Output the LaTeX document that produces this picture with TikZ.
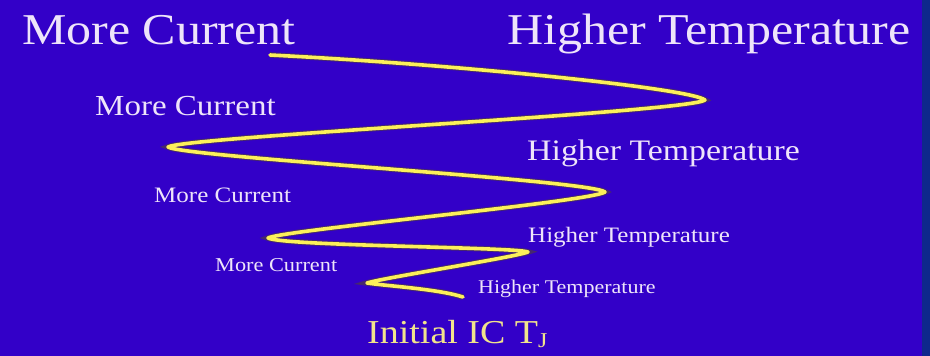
\documentclass[tikz,border=0pt]{standalone}
\usepackage{fontspec}
\setmainfont{Liberation Serif}
\usepackage{tikz}

\definecolor{slideblue}{RGB}{51,0,200}
\definecolor{edgenavy}{RGB}{14,40,140}
\definecolor{springyellow}{RGB}{252,240,90}
\definecolor{springshade}{RGB}{70,40,110}
\definecolor{labelwhite}{RGB}{238,228,250}
\definecolor{labelyellow}{RGB}{242,228,140}

\begin{document}
\begin{tikzpicture}[x=1pt,y=-1pt,
  label/.style={anchor=base west,inner sep=0pt,text=labelwhite},
  spring/.style={draw=springyellow,line width=3.6pt,line cap=round,line join=round,
    preaction={draw=springshade,line width=5.6pt}}]
\fill[slideblue] (0,0) rectangle (930,356);
\fill[edgenavy] (922,0) rectangle (930,356);
\useasboundingbox (0,0) rectangle (930,356);
% labels, biggest at the top
\node[label,font=\fontsize{50}{50}\selectfont] (mc1) at (22,45) {\scalebox{1}[0.88]{More Current}};
\node[label,font=\fontsize{50}{50}\selectfont] (ht1) at (507,44) {\scalebox{1}[0.88]{Higher Temperature}};
\node[label,font=\fontsize{33}{33}\selectfont] (mc2) at (95,115) {\scalebox{1}[0.88]{More Current}};
\node[label,font=\fontsize{33.8}{34}\selectfont] (ht2) at (527,160) {\scalebox{1}[0.88]{Higher Temperature}};
\node[label,font=\fontsize{25}{25}\selectfont] (mc3) at (154,202) {\scalebox{1}[0.88]{More Current}};
\node[label,font=\fontsize{25}{25}\selectfont] (ht3) at (528,242) {\scalebox{1}[0.88]{Higher Temperature}};
\node[label,font=\fontsize{22.3}{23}\selectfont] (mc4) at (215,271) {\scalebox{1}[0.88]{More Current}};
\node[label,font=\fontsize{22}{22}\selectfont] (ht4) at (478,293) {\scalebox{1}[0.88]{Higher Temperature}};
\node[label,text=labelyellow,font=\fontsize{38}{38}\selectfont] (tj) at (367,343)
  {\scalebox{1}[0.88]{Initial IC T\raisebox{-0.12em}{\fontsize{24}{24}\selectfont J}}};
% turning points of the spring
\coordinate (start) at (270,55);
\coordinate (tipA) at (705,100);
\coordinate (tipB) at (168,147);
\coordinate (tipC) at (605,192);
\coordinate (tipD) at (268,238);
\coordinate (tipE) at (528,252);
\coordinate (tipF) at (367,283);
\coordinate (stop) at (463,297);
\draw[spring] (start) .. controls +(180,9) and +(-15,-12) .. (tipA)
  .. controls +(-15,12) and +(15,-10) .. (tipB)
  .. controls +(15,10) and +(-15,-12) .. (tipC)
  .. controls +(-15,10) and +(15,-8) .. (tipD)
  .. controls +(15,8) and +(-12,-5) .. (tipE)
  .. controls +(-12,5) and +(15,-5) .. (tipF)
  .. controls +(20,3) and +(-25,-8) .. (stop);
\end{tikzpicture}
\end{document}
